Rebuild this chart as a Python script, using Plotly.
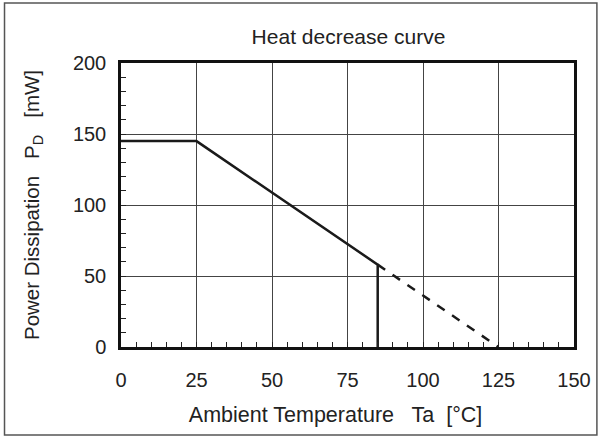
import plotly.graph_objects as go

# derating curve (solid part)
solid_x = [0, 25, 85, 85]
solid_y = [145, 145, 58, 0]
# extrapolated part (dashed)
dash_x = [85, 125]
dash_y = [58, 0]

x_ticks = [0, 25, 50, 75, 100, 125, 150]
y_ticks = [0, 50, 100, 150, 200]

fnt = dict(family="Liberation Sans, Arial", size=20, color="#222")

fig = go.Figure()
fig.add_trace(go.Scatter(x=solid_x, y=solid_y, mode="lines",
                         line=dict(color="#1a1a1a", width=2.5), showlegend=False))
fig.add_trace(go.Scatter(x=dash_x, y=dash_y, mode="lines",
                         line=dict(color="#1a1a1a", width=2.5, dash="dash"), showlegend=False))

W, H = 603, 437
l, r, t, b = 121, 27, 63, 90
pw, ph = W - l - r, H - t - b

fig.update_layout(
    width=W, height=H,
    margin=dict(l=l, r=r, t=t, b=b),
    paper_bgcolor="white", plot_bgcolor="white",
    font=fnt,
    title=dict(text="Heat decrease curve", x=(l + pw / 2) / W, xanchor="center",
               y=1 - 37 / H, yanchor="middle", font=dict(size=21, color="#222")),
    xaxis=dict(range=[0, 150], tickvals=x_ticks, showgrid=True, gridcolor="#444",
               gridwidth=1, showline=True, linecolor="#111", linewidth=2.5, mirror=True,
               ticks="inside", ticklen=0, zeroline=False, ticklabelstandoff=13,
               minor=dict(dtick=5, ticks="inside", ticklen=5, tickcolor="#222", showgrid=False),
               title=dict(text="Ambient Temperature   Ta  [°C]&nbsp;&nbsp;&nbsp;&nbsp;",
                          standoff=18, font=dict(size=21.5))),
    yaxis=dict(range=[0, 200], tickvals=y_ticks, showgrid=True, gridcolor="#444",
               gridwidth=1, showline=True, linecolor="#111", linewidth=2.5, mirror=True,
               ticks="inside", ticklen=0, zeroline=False, ticklabelstandoff=8,
               minor=dict(dtick=10, ticks="inside", ticklen=5, tickcolor="#222", showgrid=False),
               title=dict(text="Power Dissipation   P<sub>D</sub>   [mW]", standoff=28,
                          font=dict(size=20.5))),
)

# outer frame around the whole figure
fig.add_shape(type="rect", xref="paper", yref="paper",
              x0=(4 - l) / pw, x1=(599 - l) / pw,
              y0=(H - b - 435) / ph, y1=(H - b - 3) / ph,
              line=dict(color="#555", width=1.5), layer="below")

fig.write_html("out.html", config={"displayModeBar": False},
               post_script="document.body.style.margin='0px';")
